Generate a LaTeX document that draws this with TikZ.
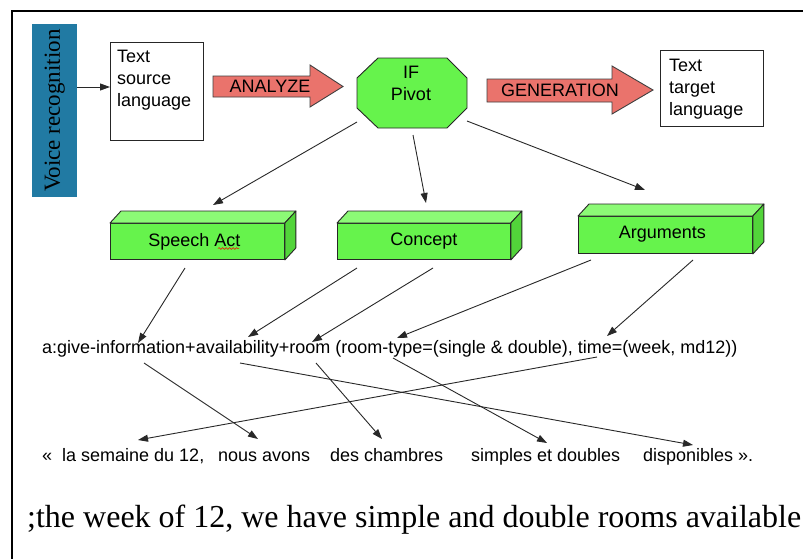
\documentclass[tikz,border=0pt]{standalone}
\usepackage{fontspec}
\setmainfont{Liberation Serif}
\setsansfont{Liberation Sans}
\usetikzlibrary{arrows.meta,decorations.pathmorphing}
\definecolor{voiceblue}{RGB}{33,122,163}
\definecolor{salmon}{RGB}{234,115,108}
\definecolor{boxgreen}{RGB}{102,243,76}
\definecolor{topgreen}{RGB}{140,250,118}
\definecolor{sidegreen}{RGB}{82,212,58}
\definecolor{linegray}{RGB}{40,40,40}
\begin{document}
\begin{tikzpicture}[x=1pt,y=-1pt,
  arr/.style={draw=linegray, line width=0.9pt, -{Triangle[length=10pt,width=7pt]}},
  sans18/.style={font=\sffamily\fontsize{18}{22}\selectfont, text=black},
  plainbox/.style={draw=black!85, line width=0.9pt, fill=white, inner sep=0, anchor=north west},
  bigarrow/.style={fill=salmon, draw=black!75, line width=0.9pt},
  front/.style={fill=boxgreen, draw=black!85, line width=0.9pt, inner sep=0, anchor=north west, minimum width=174, minimum height=36},
  topface/.style={fill=topgreen, draw=black!85, line width=0.9pt, line join=round},
  sideface/.style={fill=sidegreen, draw=black!85, line width=0.9pt, line join=round},
  wordtxt/.style={sans18, anchor=base west, inner sep=0}]
\useasboundingbox (0,0) rectangle (803,558);
\fill[white] (0,0) rectangle (803,558);
% outer frame
\draw[line width=2.5pt] (12,560) -- (12,11) -- (805,11);

% voice recognition
\node[fill=voiceblue, minimum width=45, minimum height=173, anchor=north west, inner sep=0] (voice) at (32,24) {};
\node[rotate=90, font=\fontsize{23}{23}\selectfont, inner sep=0] (voicetxt) at (voice.center) {Voice recognition};

% source text box
\node[plainbox, minimum width=93, minimum height=98] (src) at (110,42) {};
\node[sans18, align=left, anchor=north west, inner sep=0] (srctxt) at (117,50) {Text\\source\\language};
\coordinate (vr) at (0,87);
\draw[arr] (voice.east |- vr) -- (src.west |- vr);

% ANALYZE arrow
\path[bigarrow] (213,76) -- (310,76) -- (310,65) -- (343,86.5) -- (310,107) -- (310,97) -- (213,97) -- cycle;
\node[sans18] (anz) at (270,86.5) {ANALYZE};

% IF Pivot octagon
\path[fill=boxgreen, draw=black!85, line width=0.9pt] (378,58) -- (447,58) -- (467,78) -- (467,108) -- (447,128) -- (378,128) -- (357,108) -- (357,78) -- cycle;
\node[sans18, align=center, inner sep=0] (ifp) at (411,83) {IF\\Pivot};

% GENERATION arrow
\path[bigarrow] (487,79) -- (612,79) -- (612,66) -- (653,90) -- (612,114) -- (612,102) -- (487,102) -- cycle;
\node[sans18] (gen) at (560,90) {GENERATION};

% target text box
\node[plainbox, minimum width=103, minimum height=76] (tgt) at (660,50) {};
\node[sans18, align=left, anchor=north west, inner sep=0] (tgttxt) at (669,59) {Text\\target\\language};

% 3D green boxes
\node[front] (sa) at (110,223) {};
\node[front, minimum width=173] (co) at (337,223) {};
\node[front, minimum height=37] (ar) at (578,216) {};
\foreach \b in {sa,co,ar}{
  \path[topface] (\b.north west) -- ++(11,-12) -- ([shift={(11,-12)}]\b.north east) -- (\b.north east) -- cycle;
  \path[sideface] (\b.north east) -- ++(11,-12) -- ([shift={(11,-12)}]\b.south east) -- (\b.south east) -- cycle;
}
\node[sans18] (satxt) at ([xshift=-3]sa.center) {Speech Act};
\draw[red, line width=0.5pt, decorate, decoration={snake, amplitude=0.9, segment length=3.5}] (218,248.5) -- (239,248.5);
\node[sans18] (cotxt) at (co.center) {Concept};
\node[sans18] (artxt) at ([xshift=-3,yshift=1]ar.center) {Arguments};

% IF representation
\node[wordtxt] (ifrep) at (42,353) {a:give-information+availability+room (room-type=(single \& double), time=(week, md12))};

% French words
\node[wordtxt] (fq) at (42,461) {«};
\node[wordtxt] (f1) at (62,461) {la semaine du 12,};
\node[wordtxt] (f2) at (218,461) {nous avons};
\node[wordtxt] (f3) at (330,461) {des chambres};
\node[wordtxt] (f4) at (471,461) {simples et doubles};
\node[wordtxt] (f5) at (643,461) {disponibles ».};

% English
\node[font=\fontsize{32}{32}\selectfont, anchor=base west, inner sep=0] (eng) at (27,527) {;the week of 12, we have simple and double rooms available};

% connector end points
\coordinate (p1s) at (357,122); \coordinate (p1e) at (213,205);
\coordinate (p2s) at (413,135); \coordinate (p2e) at (426,203);
\coordinate (p3s) at (467,121); \coordinate (p3e) at (645,190);
\coordinate (s1s) at (185,268); \coordinate (s1e) at (138,343);
\coordinate (c1s) at (357,268); \coordinate (c1e) at (248,337);
\coordinate (c2s) at (433,268); \coordinate (c2e) at (312,342);
\coordinate (a1s) at (591,260); \coordinate (a1e) at (397,338);
\coordinate (a2s) at (693,260); \coordinate (a2e) at (607,336);
\coordinate (m1s) at (144,363); \coordinate (m1e) at (258,439);
\coordinate (m2s) at (240,363); \coordinate (m2e) at (693,445);
\coordinate (m3s) at (316,363); \coordinate (m3e) at (382,439);
\coordinate (m4s) at (597,357); \coordinate (m4e) at (138,440);
\coordinate (m5s) at (393,358); \coordinate (m5e) at (547,443);

\foreach \c in {p1,p2,p3,s1,c1,c2,a1,a2,m1,m2,m3,m4,m5}
  \draw[arr] (\c s) -- (\c e);
\end{tikzpicture}
\end{document}
